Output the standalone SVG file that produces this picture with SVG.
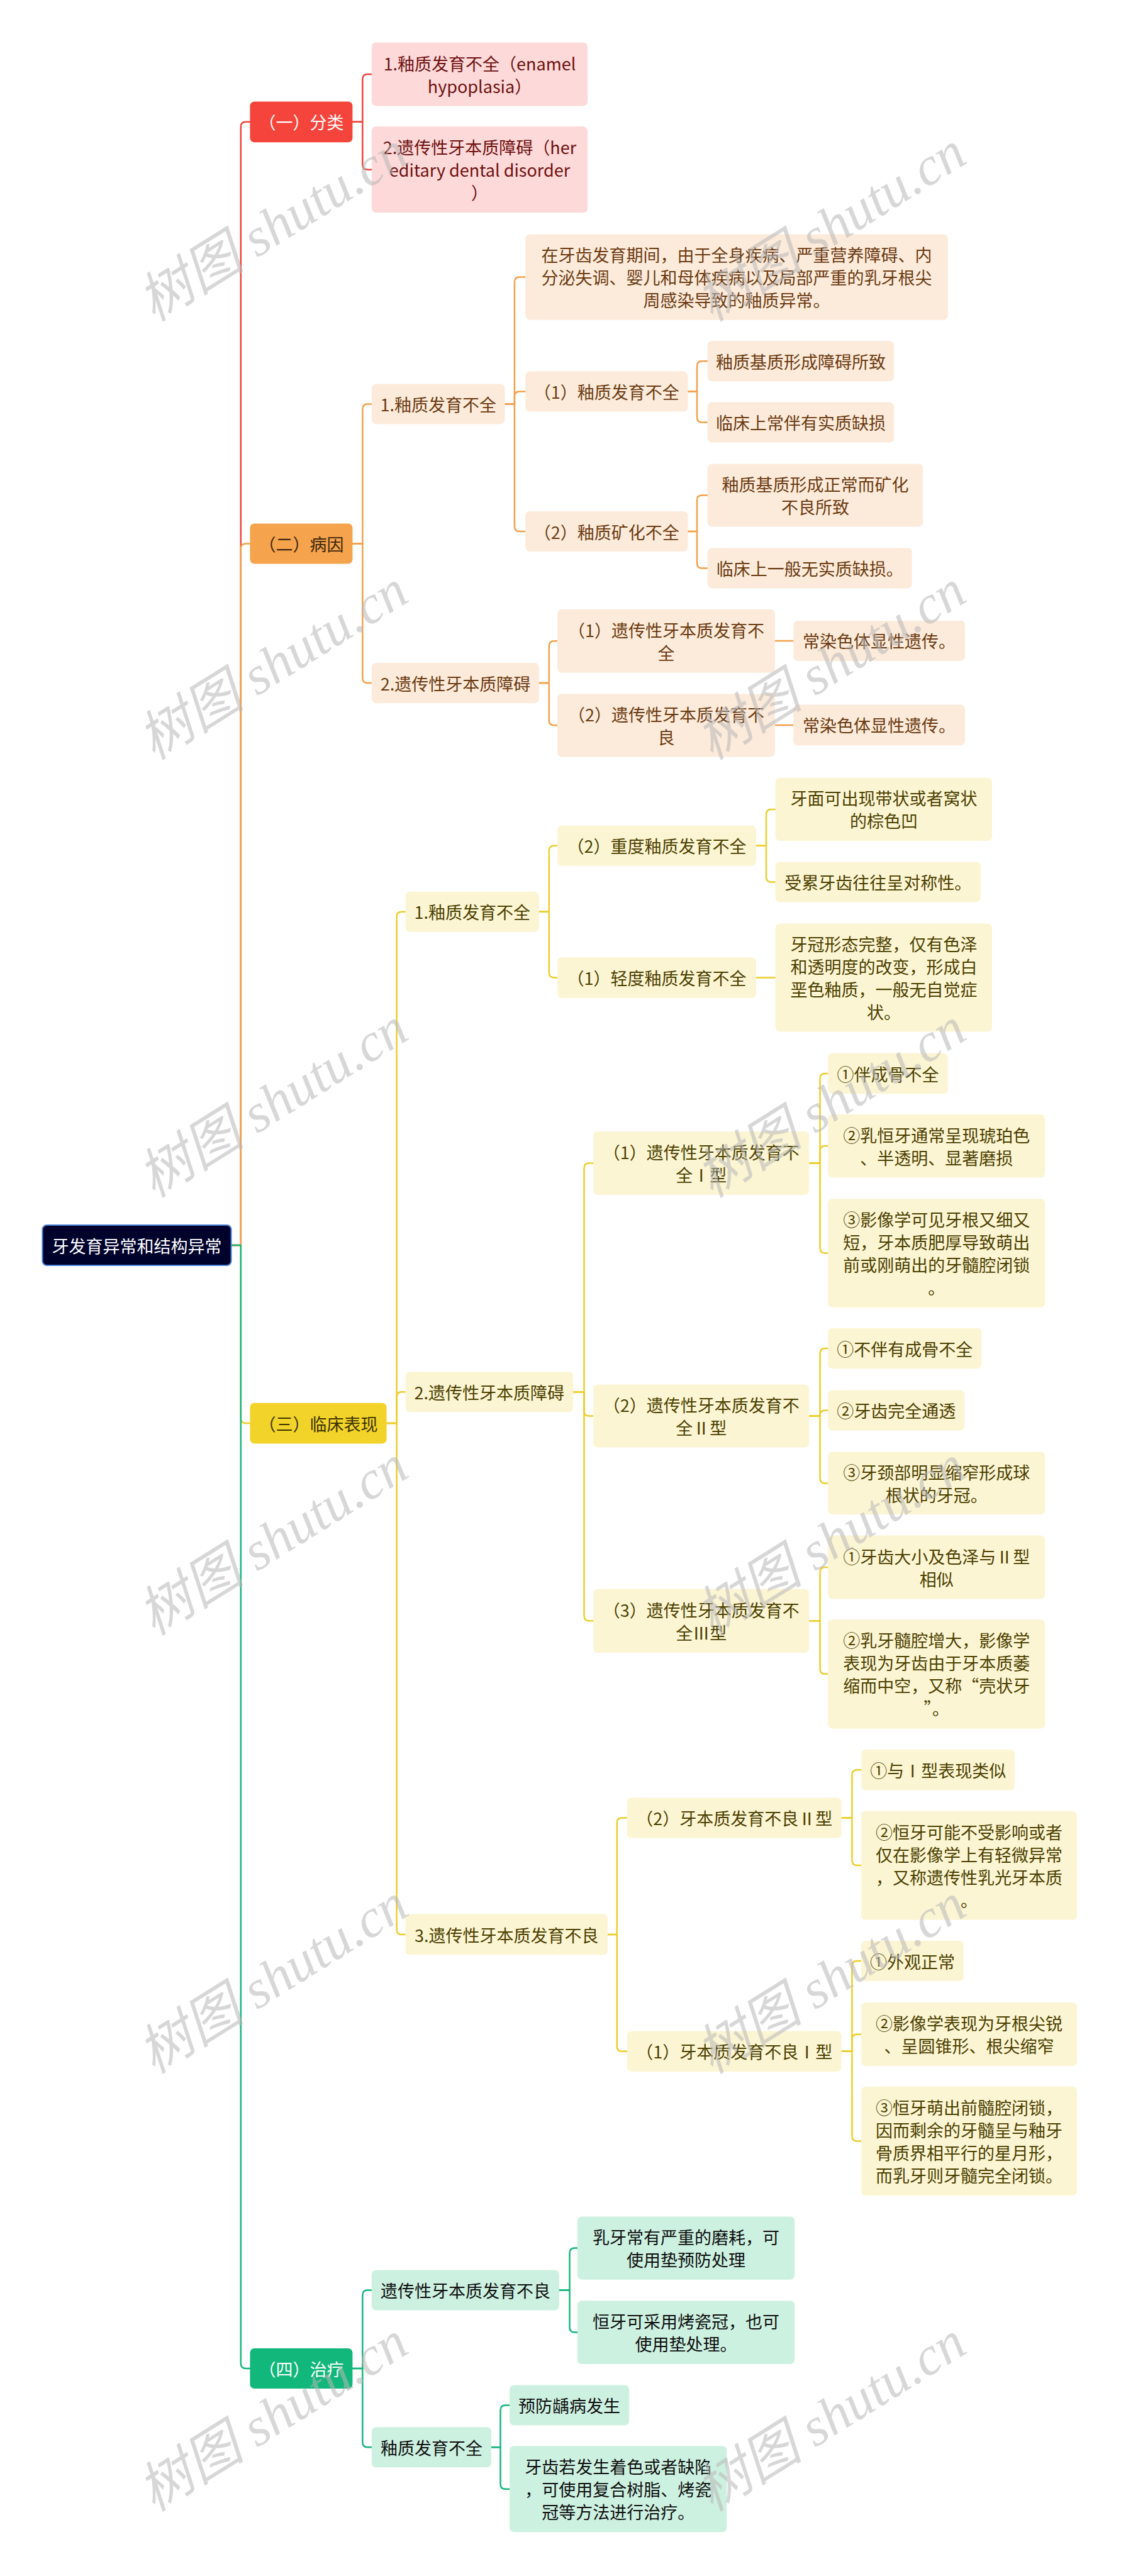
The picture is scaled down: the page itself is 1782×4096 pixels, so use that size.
<svg xmlns="http://www.w3.org/2000/svg" width="1782" height="4096" viewBox="0 0 1782 4096">
<style>
text{font-family:"Noto Sans CJK SC","Noto Sans",sans-serif;font-size:27px;text-anchor:middle;dominant-baseline:central}
rect{rx:7px;ry:7px}
.root rect{fill:#00022b;stroke:#4a7fd8;stroke-width:2}
.root text{fill:#ffffff}
.l1r rect{fill:#f5443b}.l1r text{fill:#ffffff}
.l1o rect{fill:#f5a34c}.l1o text{fill:#3c2610}
.l1y rect{fill:#f2d32a}.l1y text{fill:#3b3300}
.l1g rect{fill:#12b77b}.l1g text{fill:#ffffff}
.r rect{fill:#fdd9d9}.r text{fill:#6e1010}
.o rect{fill:#fcebda}.o text{fill:#6b3a12}
.y rect{fill:#fcf5d3}.y text{fill:#4b4000}
.g rect{fill:#cdf1e1}.g text{fill:#0e0e0e}
#connectors path{fill:none;stroke-width:2.5;stroke-linecap:round;stroke-linejoin:round}
.cr{stroke:#f0433a}.co{stroke:#f4a04a}.cy{stroke:#ecce2a}.cg{stroke:#14b67a}
#watermark text{font-family:"Liberation Serif","Noto Sans CJK SC",serif;font-style:italic;font-size:86px;fill:#b8b8b8;opacity:0.55;dominant-baseline:auto}
</style>
<rect x="0" y="0" width="1782" height="4096" fill="#ffffff" style="rx:0;ry:0"/>
<g id="connectors">
<path class="cr" d="M367.5 1980 H382.8 V201.8 Q382.8 193.8 390.8 193.8 H397.4"/>
<path class="co" d="M367.5 1980 H382.8 V872.4 Q382.8 864.4 390.8 864.4 H397.4"/>
<path class="cy" d="M367.5 1980 H382.8 V2255 Q382.8 2263 390.8 2263 H397.4"/>
<path class="cg" d="M367.5 1980 H382.8 V3758 Q382.8 3766 390.8 3766 H397.4"/>
<path class="cr" d="M560.3 193.8 H576.3 V126 Q576.3 118 584.3 118 H590.9"/>
<path class="cr" d="M560.3 193.8 H576.3 V261.7 Q576.3 269.7 584.3 269.7 H590.9"/>
<path class="co" d="M560.3 864.4 H576.3 V650.4 Q576.3 642.4 584.3 642.4 H590.9"/>
<path class="co" d="M560.3 864.4 H576.3 V1078 Q576.3 1086 584.3 1086 H590.9"/>
<path class="co" d="M802.5 642.4 H817.9 V448.6 Q817.9 440.6 825.9 440.6 H835.2"/>
<path class="co" d="M802.5 642.4 H817.9 V630.6 Q817.9 622.6 825.9 622.6 H835.2"/>
<path class="co" d="M802.5 642.4 H817.9 V837 Q817.9 845 825.9 845 H835.2"/>
<path class="co" d="M1093.4 622.6 H1108 V582.2 Q1108 574.2 1116 574.2 H1124.7"/>
<path class="co" d="M1093.4 622.6 H1108 V663.6 Q1108 671.6 1116 671.6 H1124.7"/>
<path class="co" d="M1093.4 845 H1108 V795.5 Q1108 787.5 1116 787.5 H1124.7"/>
<path class="co" d="M1093.4 845 H1108 V895.4 Q1108 903.4 1116 903.4 H1124.7"/>
<path class="co" d="M856.8 1086 H872.8 V1027.3 Q872.8 1019.3 880.8 1019.3 H886"/>
<path class="co" d="M856.8 1086 H872.8 V1145.3 Q872.8 1153.3 880.8 1153.3 H886"/>
<path class="co" d="M1231.9 1019 H1261.2"/>
<path class="co" d="M1231.9 1153 H1261.2"/>
<path class="cy" d="M614.6 2263 H630.6 V1457.8 Q630.6 1449.8 638.6 1449.8 H644.5"/>
<path class="cy" d="M614.6 2263 H630.6 V2221.3 Q630.6 2213.3 638.6 2213.3 H644.5"/>
<path class="cy" d="M614.6 2263 H630.6 V3068 Q630.6 3076 638.6 3076 H644.5"/>
<path class="cy" d="M856.8 1449.8 H872.8 V1352.7 Q872.8 1344.7 880.8 1344.7 H886"/>
<path class="cy" d="M856.8 1449.8 H872.8 V1546.5 Q872.8 1554.5 880.8 1554.5 H886"/>
<path class="cy" d="M1202 1344.7 H1218 V1294.9 Q1218 1286.9 1226 1286.9 H1232.6"/>
<path class="cy" d="M1202 1344.7 H1218 V1394.4 Q1218 1402.4 1226 1402.4 H1232.6"/>
<path class="cy" d="M1202 1554.5 H1232.6"/>
<path class="cy" d="M911.1 2213.3 H928.5 V1857.6 Q928.5 1849.6 936.5 1849.6 H943.1"/>
<path class="cy" d="M911.1 2213.3 H928.5 V2243.5 Q928.5 2251.5 936.5 2251.5 H943.1"/>
<path class="cy" d="M911.1 2213.3 H928.5 V2569.3 Q928.5 2577.3 936.5 2577.3 H943.1"/>
<path class="cy" d="M1286.2 1849.6 H1303.6 V1715 Q1303.6 1707 1311.6 1707 H1316.1"/>
<path class="cy" d="M1286.2 1849.6 H1303.6 V1830.1 Q1303.6 1822.1 1311.6 1822.1 H1316.1"/>
<path class="cy" d="M1286.2 1849.6 H1303.6 V1984.6 Q1303.6 1992.6 1311.6 1992.6 H1316.1"/>
<path class="cy" d="M1286.2 2251.5 H1303.6 V2152 Q1303.6 2144 1311.6 2144 H1316.1"/>
<path class="cy" d="M1286.2 2251.5 H1303.6 V2250.5 Q1303.6 2242.5 1311.6 2242.5 H1316.1"/>
<path class="cy" d="M1286.2 2251.5 H1303.6 V2350.4 Q1303.6 2358.4 1311.6 2358.4 H1316.1"/>
<path class="cy" d="M1286.2 2577.3 H1303.6 V2500 Q1303.6 2492 1311.6 2492 H1316.1"/>
<path class="cy" d="M1286.2 2577.3 H1303.6 V2653.8 Q1303.6 2661.8 1311.6 2661.8 H1316.1"/>
<path class="cy" d="M966.1 3076 H980.7 V2898.5 Q980.7 2890.5 988.7 2890.5 H996.7"/>
<path class="cy" d="M966.1 3076 H980.7 V3253.8 Q980.7 3261.8 988.7 3261.8 H996.7"/>
<path class="cy" d="M1337.7 2890.5 H1354.4 V2822.3 Q1354.4 2814.3 1362.4 2814.3 H1369"/>
<path class="cy" d="M1337.7 2890.5 H1354.4 V2958 Q1354.4 2966 1362.4 2966 H1369"/>
<path class="cy" d="M1337.7 3261.8 H1354.4 V3126 Q1354.4 3118 1362.4 3118 H1369"/>
<path class="cy" d="M1337.7 3261.8 H1354.4 V3242.7 Q1354.4 3234.7 1362.4 3234.7 H1369"/>
<path class="cy" d="M1337.7 3261.8 H1354.4 V3396.4 Q1354.4 3404.4 1362.4 3404.4 H1369"/>
<path class="cg" d="M560.3 3766 H576.3 V3649.5 Q576.3 3641.5 584.3 3641.5 H590.9"/>
<path class="cg" d="M560.3 3766 H576.3 V3883.3 Q576.3 3891.3 584.3 3891.3 H590.9"/>
<path class="cg" d="M888.8 3641.5 H905.5 V3582.6 Q905.5 3574.6 913.5 3574.6 H918"/>
<path class="cg" d="M888.8 3641.5 H905.5 V3700.6 Q905.5 3708.6 913.5 3708.6 H918"/>
<path class="cg" d="M780.9 3891.3 H795.5 V3832.5 Q795.5 3824.5 803.5 3824.5 H810.1"/>
<path class="cg" d="M780.9 3891.3 H795.5 V3949.8 Q795.5 3957.8 803.5 3957.8 H810.1"/>
</g>
<g id="root" class="root"><rect x="67.5" y="1948" width="300" height="64"/><text x="217.5" y="1980">牙发育异常和结构异常</text></g>
<g id="n-fenlei" class="l1r"><rect x="397.4" y="161.5" width="163" height="64.7"/><text x="478.9" y="193.8">（一）分类</text></g>
<g id="n-bingyin" class="l1o"><rect x="397.4" y="832.4" width="163" height="64"/><text x="478.9" y="864.4">（二）病因</text></g>
<g id="n-linchuang" class="l1y"><rect x="397.4" y="2230.7" width="217.2" height="64.7"/><text x="506" y="2263">（三）临床表现</text></g>
<g id="n-zhiliao" class="l1g"><rect x="397.4" y="3734" width="163" height="64"/><text x="478.9" y="3766">（四）治疗</text></g>
<g id="r1" class="r"><rect x="590.9" y="67.5" width="343.1" height="100.9"/><text x="762.5" y="100">1.釉质发育不全（enamel</text><text x="762.5" y="136">hypoplasia）</text></g>
<g id="r2" class="r"><rect x="590.9" y="201.1" width="343.1" height="137.1"/><text x="762.5" y="233.7">2.遗传性牙本质障碍（her</text><text x="762.5" y="269.7">editary dental disorder</text><text x="762.5" y="305.7">）</text></g>
<g id="o1" class="o"><rect x="590.9" y="610.4" width="211.6" height="64"/><text x="696.7" y="642.4">1.釉质发育不全</text></g>
<g id="o2" class="o"><rect x="590.9" y="1054" width="265.9" height="64"/><text x="723.9" y="1086">2.遗传性牙本质障碍</text></g>
<g id="o1-0" class="o"><rect x="835.2" y="372.4" width="671.6" height="136.4"/><text x="1171" y="404.6">在牙齿发育期间，由于全身疾病、严重营养障碍、内</text><text x="1171" y="440.6">分泌失调、婴儿和母体疾病以及局部严重的乳牙根尖</text><text x="1171" y="476.6">周感染导致的釉质异常。</text></g>
<g id="o1-1" class="o"><rect x="835.2" y="590.6" width="258.2" height="64"/><text x="964.3" y="622.6">（1）釉质发育不全</text></g>
<g id="o1-2" class="o"><rect x="835.2" y="813" width="258.2" height="64"/><text x="964.3" y="845">（2）釉质矿化不全</text></g>
<g id="o1-1a" class="o"><rect x="1124.7" y="542.2" width="296.5" height="64"/><text x="1273" y="574.2">釉质基质形成障碍所致</text></g>
<g id="o1-1b" class="o"><rect x="1124.7" y="639.6" width="296.5" height="64"/><text x="1273" y="671.6">临床上常伴有实质缺损</text></g>
<g id="o1-2a" class="o"><rect x="1124.7" y="737.5" width="342.4" height="100"/><text x="1295.9" y="769.5">釉质基质形成正常而矿化</text><text x="1295.9" y="805.5">不良所致</text></g>
<g id="o1-2b" class="o"><rect x="1124.7" y="871.4" width="325" height="64"/><text x="1287.2" y="903.4">临床上一般无实质缺损。</text></g>
<g id="o2-1" class="o"><rect x="886" y="968.8" width="345.9" height="101"/><text x="1059" y="1001.3">（1）遗传性牙本质发育不</text><text x="1059" y="1037.3">全</text></g>
<g id="o2-2" class="o"><rect x="886" y="1103.2" width="345.9" height="100.2"/><text x="1059" y="1135.3">（2）遗传性牙本质发育不</text><text x="1059" y="1171.3">良</text></g>
<g id="o2-1a" class="o"><rect x="1261.2" y="986.9" width="272.8" height="64"/><text x="1397.6" y="1018.9">常染色体显性遗传。</text></g>
<g id="o2-2a" class="o"><rect x="1261.2" y="1120.6" width="272.8" height="64.7"/><text x="1397.6" y="1152.9">常染色体显性遗传。</text></g>
<g id="y1" class="y"><rect x="644.5" y="1417.8" width="212.3" height="64"/><text x="750.7" y="1449.8">1.釉质发育不全</text></g>
<g id="y2" class="y"><rect x="644.5" y="2181.3" width="266.6" height="64"/><text x="777.8" y="2213.3">2.遗传性牙本质障碍</text></g>
<g id="y3" class="y"><rect x="644.5" y="3043.6" width="321.6" height="64.7"/><text x="805.3" y="3076">3.遗传性牙本质发育不良</text></g>
<g id="y1-1" class="y"><rect x="886" y="1312.7" width="316" height="64"/><text x="1044" y="1344.7">（2）重度釉质发育不全</text></g>
<g id="y1-2" class="y"><rect x="886" y="1522.2" width="316" height="64.7"/><text x="1044" y="1554.5">（1）轻度釉质发育不全</text></g>
<g id="y1-1a" class="y"><rect x="1232.6" y="1236.8" width="344.5" height="100.2"/><text x="1404.9" y="1268.9">牙面可出现带状或者窝状</text><text x="1404.9" y="1304.9">的棕色凹</text></g>
<g id="y1-1b" class="y"><rect x="1232.6" y="1370.4" width="326.4" height="64"/><text x="1395.8" y="1402.4">受累牙齿往往呈对称性。</text></g>
<g id="y1-2a" class="y"><rect x="1232.6" y="1468.6" width="344.5" height="171.9"/><text x="1404.9" y="1500.5">牙冠形态完整，仅有色泽</text><text x="1404.9" y="1536.5">和透明度的改变，形成白</text><text x="1404.9" y="1572.5">垩色釉质，一般无自觉症</text><text x="1404.9" y="1608.5">状。</text></g>
<g id="y2-1" class="y"><rect x="943.1" y="1799.2" width="343.1" height="100.9"/><text x="1114.7" y="1831.6">（1）遗传性牙本质发育不</text><text x="1114.7" y="1867.6">全Ⅰ型</text></g>
<g id="y2-2" class="y"><rect x="943.1" y="2201.4" width="343.1" height="100.2"/><text x="1114.7" y="2233.5">（2）遗传性牙本质发育不</text><text x="1114.7" y="2269.5">全Ⅱ型</text></g>
<g id="y2-3" class="y"><rect x="943.1" y="2526.5" width="343.1" height="101.6"/><text x="1114.7" y="2559.3">（3）遗传性牙本质发育不</text><text x="1114.7" y="2595.3">全Ⅲ型</text></g>
<g id="y2-1a" class="y"><rect x="1316.1" y="1674.6" width="190.7" height="64.7"/><text x="1411.5" y="1707">①伴成骨不全</text></g>
<g id="y2-1b" class="y"><rect x="1316.1" y="1772" width="345.2" height="100.2"/><text x="1488.7" y="1804.1">②乳恒牙通常呈现琥珀色</text><text x="1488.7" y="1840.1">、半透明、显著磨损</text></g>
<g id="y2-1c" class="y"><rect x="1316.1" y="1906.3" width="345.2" height="172.6"/><text x="1488.7" y="1938.6">③影像学可见牙根又细又</text><text x="1488.7" y="1974.6">短，牙本质肥厚导致萌出</text><text x="1488.7" y="2010.6">前或刚萌出的牙髓腔闭锁</text><text x="1488.7" y="2046.6">。</text></g>
<g id="y2-2a" class="y"><rect x="1316.1" y="2111.7" width="244.3" height="64.7"/><text x="1438.3" y="2144">①不伴有成骨不全</text></g>
<g id="y2-2b" class="y"><rect x="1316.1" y="2210.5" width="217.2" height="64"/><text x="1424.7" y="2242.5">②牙齿完全通透</text></g>
<g id="y2-2c" class="y"><rect x="1316.1" y="2308.6" width="345.2" height="99.5"/><text x="1488.7" y="2340.4">③牙颈部明显缩窄形成球</text><text x="1488.7" y="2376.4">根状的牙冠。</text></g>
<g id="y2-3a" class="y"><rect x="1316.1" y="2441.6" width="345.2" height="100.9"/><text x="1488.7" y="2474">①牙齿大小及色泽与Ⅱ型</text><text x="1488.7" y="2510">相似</text></g>
<g id="y2-3b" class="y"><rect x="1316.1" y="2575.2" width="345.2" height="173.3"/><text x="1488.7" y="2607.8">②乳牙髓腔增大，影像学</text><text x="1488.7" y="2643.8">表现为牙齿由于牙本质萎</text><text x="1488.7" y="2679.8">缩而中空，又称“壳状牙</text><text x="1488.7" y="2715.8">”。</text></g>
<g id="y3-1" class="y"><rect x="996.7" y="2858.5" width="341" height="64"/><text x="1167.2" y="2890.5">（2）牙本质发育不良Ⅱ型</text></g>
<g id="y3-2" class="y"><rect x="996.7" y="3229.4" width="341" height="64.7"/><text x="1167.2" y="3261.8">（1）牙本质发育不良Ⅰ型</text></g>
<g id="y3-1a" class="y"><rect x="1369" y="2781.9" width="244.3" height="64.7"/><text x="1491.2" y="2814.3">①与Ⅰ型表现类似</text></g>
<g id="y3-1b" class="y"><rect x="1369" y="2879.4" width="343.1" height="173.3"/><text x="1540.6" y="2912">②恒牙可能不受影响或者</text><text x="1540.6" y="2948">仅在影像学上有轻微异常</text><text x="1540.6" y="2984">，又称遗传性乳光牙本质</text><text x="1540.6" y="3020">。</text></g>
<g id="y3-2a" class="y"><rect x="1369" y="3086" width="162.9" height="64"/><text x="1450.5" y="3118">①外观正常</text></g>
<g id="y3-2b" class="y"><rect x="1369" y="3184.2" width="343.1" height="100.9"/><text x="1540.6" y="3216.7">②影像学表现为牙根尖锐</text><text x="1540.6" y="3252.7">、呈圆锥形、根尖缩窄</text></g>
<g id="y3-2c" class="y"><rect x="1369" y="3317.8" width="343.1" height="173.3"/><text x="1540.6" y="3350.4">③恒牙萌出前髓腔闭锁，</text><text x="1540.6" y="3386.4">因而剩余的牙髓呈与釉牙</text><text x="1540.6" y="3422.4">骨质界相平行的星月形，</text><text x="1540.6" y="3458.4">而乳牙则牙髓完全闭锁。</text></g>
<g id="g1" class="g"><rect x="590.9" y="3609.5" width="297.9" height="64"/><text x="739.9" y="3641.5">遗传性牙本质发育不良</text></g>
<g id="g2" class="g"><rect x="590.9" y="3859.3" width="190" height="64"/><text x="685.9" y="3891.3">釉质发育不全</text></g>
<g id="g1-1" class="g"><rect x="918" y="3524.5" width="345.2" height="100.2"/><text x="1090.6" y="3556.6">乳牙常有严重的磨耗，可</text><text x="1090.6" y="3592.6">使用垫预防处理</text></g>
<g id="g1-2" class="g"><rect x="918" y="3658.2" width="345.2" height="100.9"/><text x="1090.6" y="3690.6">恒牙可采用烤瓷冠，也可</text><text x="1090.6" y="3726.6">使用垫处理。</text></g>
<g id="g2-1" class="g"><rect x="810.1" y="3792.5" width="190" height="64"/><text x="905.1" y="3824.5">预防龋病发生</text></g>
<g id="g2-2" class="g"><rect x="810.1" y="3889.2" width="345.2" height="137.1"/><text x="982.7" y="3921.8">牙齿若发生着色或者缺陷</text><text x="982.7" y="3957.8">，可使用复合树脂、烤瓷</text><text x="982.7" y="3993.8">冠等方法进行治疗。</text></g>
<g id="watermark">
<text transform="translate(449 385) rotate(-32)">树图 shutu.cn</text>
<text transform="translate(1336 385) rotate(-32)">树图 shutu.cn</text>
<text transform="translate(449 1082) rotate(-32)">树图 shutu.cn</text>
<text transform="translate(1336 1082) rotate(-32)">树图 shutu.cn</text>
<text transform="translate(449 1778) rotate(-32)">树图 shutu.cn</text>
<text transform="translate(1336 1778) rotate(-32)">树图 shutu.cn</text>
<text transform="translate(449 2474) rotate(-32)">树图 shutu.cn</text>
<text transform="translate(1336 2474) rotate(-32)">树图 shutu.cn</text>
<text transform="translate(449 3171) rotate(-32)">树图 shutu.cn</text>
<text transform="translate(1336 3171) rotate(-32)">树图 shutu.cn</text>
<text transform="translate(449 3867) rotate(-32)">树图 shutu.cn</text>
<text transform="translate(1336 3867) rotate(-32)">树图 shutu.cn</text>
</g>
</svg>
